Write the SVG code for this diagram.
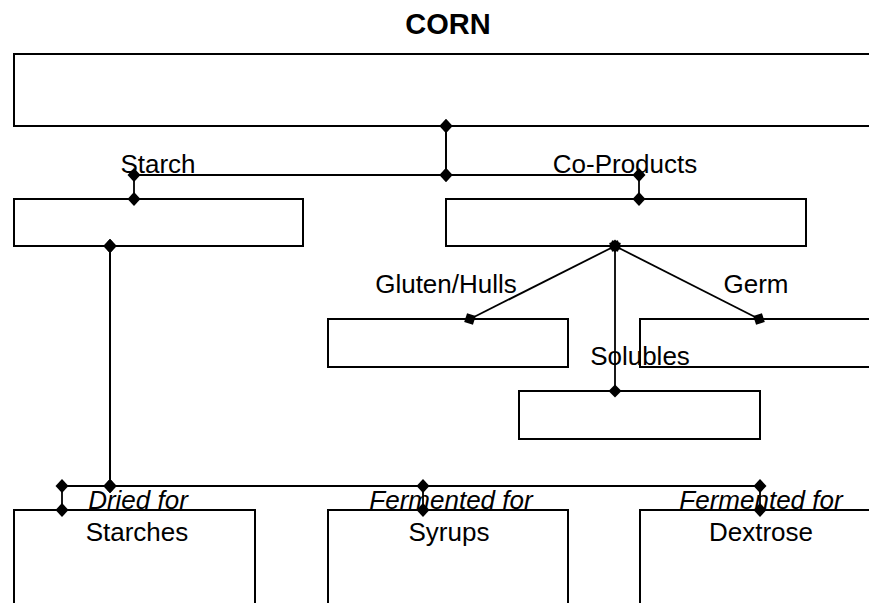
<svg xmlns="http://www.w3.org/2000/svg" width="869" height="603" viewBox="0 0 869 603">
<style>
.box{fill:none;stroke:#000;stroke-width:2}
.t{font-family:"Liberation Sans",Arial,sans-serif;font-size:26px;fill:#000}
.i{font-style:italic}
.title{font-family:"Liberation Sans",Arial,sans-serif;font-size:29px;font-weight:bold;fill:#000}
.c{fill:none;stroke:#000;stroke-width:1.8}
.e{marker-start:url(#dm);marker-mid:url(#dm);marker-end:url(#dm)}
.g{marker-start:url(#da);marker-end:url(#da)}
</style>
<defs>
<marker id="dm" viewBox="-8 -8 16 16" markerWidth="16" markerHeight="16" refX="0" refY="0" orient="0" markerUnits="userSpaceOnUse">
<path d="M-6.5,0 L0,-7 L6.5,0 L0,7Z" fill="#000"/>
</marker>
<marker id="da" viewBox="-8 -8 16 16" markerWidth="16" markerHeight="16" refX="0" refY="0" orient="auto" markerUnits="userSpaceOnUse">
<path d="M-6.5,0 L0,-6.5 L6.5,0 L0,6.5Z" fill="#000"/>
</marker>
</defs>
<rect width="869" height="603" fill="#fff"/>
<g id="corn">
<text class="title" x="448" y="34" text-anchor="middle">CORN</text>
<rect class="box" x="14" y="54" width="870" height="72"/>
</g>
<g id="starch"><rect class="box" x="14" y="199" width="289" height="47"/></g>
<g id="coproducts"><rect class="box" x="446" y="199" width="360" height="47"/></g>
<g id="gluten"><rect class="box" x="328" y="319" width="240" height="48"/></g>
<g id="germ"><rect class="box" x="640" y="319" width="240" height="48"/></g>
<g id="solubles"><rect class="box" x="519" y="391" width="241" height="48"/></g>
<g id="starches"><rect class="box" x="14" y="510" width="241" height="100"/><text class="t" x="137" y="541" text-anchor="middle">Starches</text></g>
<g id="syrups"><rect class="box" x="328" y="510" width="240" height="100"/><text class="t" x="449" y="541" text-anchor="middle">Syrups</text></g>
<g id="dextrose"><rect class="box" x="640" y="510" width="240" height="100"/><text class="t" x="761" y="541" text-anchor="middle">Dextrose</text></g>
<g id="labels">
<text class="t" x="158" y="173" text-anchor="middle">Starch</text>
<text class="t" x="625" y="173" text-anchor="middle">Co-Products</text>
<text class="t" x="446" y="293" text-anchor="middle">Gluten/Hulls</text>
<text class="t" x="756" y="293" text-anchor="middle">Germ</text>
<text class="t" x="640" y="365" text-anchor="middle">Solubles</text>
<text class="t i" x="138" y="509" text-anchor="middle">Dried for</text>
<text class="t i" x="451" y="509" text-anchor="middle">Fermented for</text>
<text class="t i" x="761" y="509" text-anchor="middle">Fermented for</text>
</g>
<g id="connectors">
<path class="c e" d="M446,126 V175 H134 V199"/>
<path class="c e" d="M446,126 V175 H639 V199"/>
<path class="c e" d="M110,246 V486 H62 V510"/>
<path class="c e" d="M110,246 V486 H423 V510"/>
<path class="c e" d="M110,246 V486 H760 V510"/>
<path class="c g" d="M615,246 L470,319"/>
<path class="c g" d="M615,246 L759,319"/>
<path class="c g" d="M615,246 L615,391"/>
</g>
</svg>
